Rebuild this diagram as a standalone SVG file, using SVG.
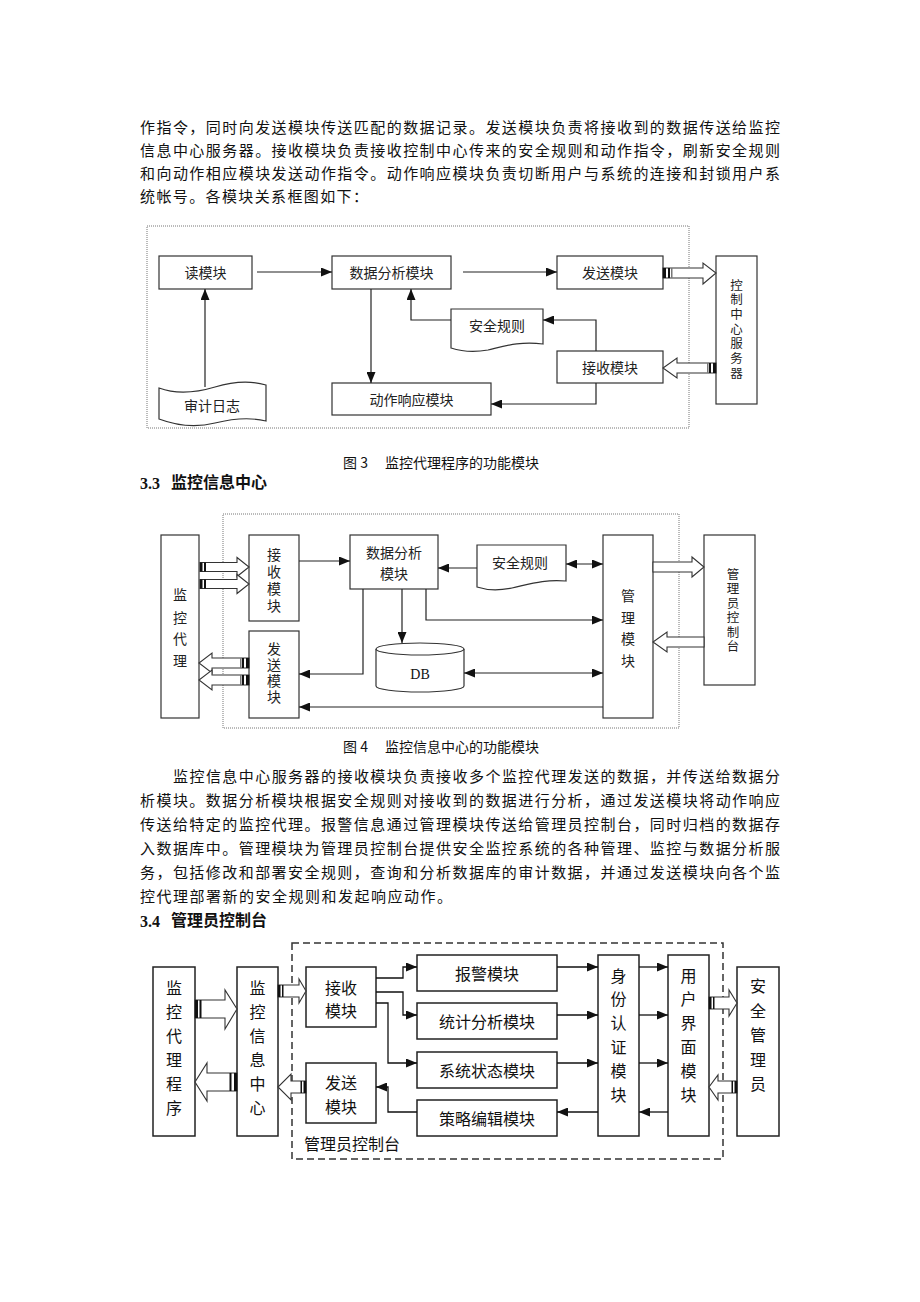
<svg xmlns="http://www.w3.org/2000/svg" width="920" height="1302" viewBox="0 0 920 1302">
<style>
text{font-family:"Noto Sans CJK SC","Liberation Sans",sans-serif;fill:#111;dominant-baseline:central}
.p{font-size:15px}
.h{font-size:16px;font-weight:bold;font-family:"Liberation Serif","Noto Sans CJK SC",serif}
.cap{font-size:14px}
.t3{font-size:14px;text-anchor:middle;fill:#222}
.vt{writing-mode:vertical-rl;text-anchor:middle;fill:#222}
.t5{font-size:16px;text-anchor:middle}
.b3{fill:#fff;stroke:#333;stroke-width:1.2}
.b5{fill:#fff;stroke:#222;stroke-width:1.5}
.c3{fill:none;stroke:#222;stroke-width:1.2}
.c5{fill:none;stroke:#111;stroke-width:1.3}
.ha{fill:#fff;stroke:#333;stroke-width:1.1}
.st{fill:#111}
.dot{fill:none;stroke:#777;stroke-width:1;stroke-dasharray:1,1}
.dash{fill:none;stroke:#333;stroke-width:1.5;stroke-dasharray:7,4}
</style>
<defs>
<marker id="ar" markerUnits="userSpaceOnUse" markerWidth="11" markerHeight="9" refX="11" refY="4.5" orient="auto-start-reverse"><path d="M0,0 L11,4.5 L0,9 z" fill="#111"/></marker>
</defs>
<rect width="920" height="1302" fill="#fff"/>

<g id="para1">
<text class="p" x="140" y="126" textLength="640" lengthAdjust="spacing">作指令，同时向发送模块传送匹配的数据记录。发送模块负责将接收到的数据传送给监控</text>
<text class="p" x="140" y="149" textLength="640" lengthAdjust="spacing">信息中心服务器。接收模块负责接收控制中心传来的安全规则和动作指令，刷新安全规则</text>
<text class="p" x="140" y="172" textLength="640" lengthAdjust="spacing">和向动作相应模块发送动作指令。动作响应模块负责切断用户与系统的连接和封锁用户系</text>
<text class="p" x="140" y="195" textLength="228" lengthAdjust="spacing">统帐号。各模块关系框图如下：</text>
</g>

<!-- Figure 3 -->
<rect class="dot" x="147" y="226" width="542" height="202"/>
<g id="f3-read"><rect class="b3" x="159" y="256" width="93" height="33"/><text class="t3" x="205.5" y="272">读模块</text></g>
<g id="f3-analysis"><rect class="b3" x="332" y="256" width="119" height="33"/><text class="t3" x="391.5" y="272">数据分析模块</text></g>
<g id="f3-send"><rect class="b3" x="557" y="256" width="106" height="33"/><text class="t3" x="610" y="272">发送模块</text></g>
<g id="f3-server"><rect class="b3" x="716" y="256" width="41" height="148"/>
<text class="vt" x="736.5" y="330" style="font-size:12.5px;letter-spacing:2.2px">控制中心服务器</text></g>
<g id="f3-rules"><path class="b3" d="M451,309 H543 V344 C520,341 505,346 488,350 C472,353 460,351 451,348 Z"/><text class="t3" x="497" y="325">安全规则</text></g>
<g id="f3-recv"><rect class="b3" x="557" y="351" width="106" height="32"/><text class="t3" x="610" y="367">接收模块</text></g>
<g id="f3-action"><rect class="b3" x="332" y="383" width="159" height="32"/><text class="t3" x="411.5" y="399">动作响应模块</text></g>
<g id="f3-log"><path class="b3" d="M159,388 C175,394 195,393 215,387 C235,381 252,381 266,385 L266,421 C250,417 235,418 215,423 C195,428 175,425 159,419 Z"/><text class="t3" x="212" y="405">审计日志</text></g>
<g id="f3-conn">
<path class="c3" d="M257,272 H332" marker-end="url(#ar)"/>
<path class="c3" d="M463,272 H557" marker-end="url(#ar)"/>
<path class="c3" d="M205,387 V289" marker-end="url(#ar)"/>
<path class="c3" d="M371,289 V383" marker-end="url(#ar)"/>
<path class="c3" d="M596,351 V320 H543" marker-end="url(#ar)"/>
<path class="c3" d="M451,320 H411 V289" marker-end="url(#ar)"/>
<path class="c3" d="M596,383 V404 H491" marker-end="url(#ar)"/>
<polygon class="ha" points="663,268 703,268 703,263 716,273 703,284 703,278 663,278"/>
<rect class="st" x="663" y="268" width="3" height="10"/><rect class="st" x="668" y="268" width="2" height="10"/><rect fill="#777" x="671" y="268" width="1.5" height="10"/>
<polygon class="ha" points="716,363 677,363 677,358 663,368 677,378 677,373 716,373"/>
<rect class="st" x="713" y="363" width="3" height="10"/><rect class="st" x="709" y="363" width="2" height="10"/><rect fill="#777" x="707" y="363" width="1.5" height="10"/>
</g>
<text class="cap" x="343" y="462">图 3　 监控代理程序的功能模块</text>
<text class="h" x="140" y="483">3.3</text><text class="h" x="171" y="482">监控信息中心</text>

<!-- Figure 4 -->
<rect class="dot" x="223" y="514" width="456" height="214"/>
<g id="f4-agent"><rect class="b3" x="161" y="535" width="38" height="183"/>
<text class="t3" x="180" y="594">监</text><text class="t3" x="180" y="617">控</text><text class="t3" x="180" y="638">代</text><text class="t3" x="180" y="660">理</text></g>
<g id="f4-recv"><rect class="b3" x="249" y="535" width="50" height="86"/>
<text class="vt" x="274" y="582" style="font-size:14px;letter-spacing:3px">接收模块</text></g>
<g id="f4-send"><rect class="b3" x="249" y="631" width="50" height="87"/>
<text class="vt" x="274" y="674" style="font-size:14px;letter-spacing:2px">发送模块</text></g>
<g id="f4-analysis"><rect class="b3" x="350" y="535" width="88" height="54"/>
<text class="t3" x="394" y="552">数据分析</text><text class="t3" x="394" y="573">模块</text></g>
<g id="f4-rules"><path class="b3" d="M477,545 H566 V581 C545,579 530,584 512,588 C497,591 486,590 477,587 Z"/><text class="t3" x="520" y="562">安全规则</text></g>
<g id="f4-db"><path class="b3" d="M376,649 V686 A44,6 0 0 0 464,686 V649"/><ellipse class="b3" cx="420" cy="649" rx="44" ry="6"/>
<text x="420" y="674" style="font-family:'Liberation Serif',serif;font-size:14px;text-anchor:middle">DB</text></g>
<g id="f4-mgmt"><rect class="b3" x="603" y="535" width="50" height="183"/>
<text class="t3" x="628" y="595">管</text><text class="t3" x="628" y="617">理</text><text class="t3" x="628" y="638">模</text><text class="t3" x="628" y="660">块</text></g>
<g id="f4-console"><rect class="b3" x="704" y="535" width="51" height="150"/>
<text class="vt" x="733" y="611" style="font-size:12.5px;letter-spacing:2px">管理员控制台</text></g>
<g id="f4-conn">
<path class="c3" d="M299,561 H350" marker-end="url(#ar)"/>
<path class="c3" d="M477,568 H438" marker-end="url(#ar)"/>
<path class="c3" d="M566,564 H603" marker-start="url(#ar)" marker-end="url(#ar)"/>
<path class="c3" d="M402,589 V643" marker-end="url(#ar)"/>
<path class="c3" d="M426,589 V620 H603" marker-end="url(#ar)"/>
<path class="c3" d="M363,589 V674 H299" marker-end="url(#ar)"/>
<path class="c3" d="M464,673 H603" marker-start="url(#ar)" marker-end="url(#ar)"/>
<path class="c3" d="M603,707 H299" marker-end="url(#ar)"/>
<polygon class="ha" points="200,562.5 237,562.5 237,557.5 249,567 237,576.5 237,571.5 200,571.5"/>
<rect class="st" x="200" y="562.5" width="2.5" height="9"/><rect class="st" x="204" y="562.5" width="2" height="9"/>
<polygon class="ha" points="200,579.5 237,579.5 237,574.5 249,584 237,593.5 237,588.5 200,588.5"/>
<rect class="st" x="200" y="579.5" width="2.5" height="9"/><rect class="st" x="204" y="579.5" width="2" height="9"/>
<polygon class="ha" points="249,658 212,658 212,653 199,663 212,673 212,668 249,668"/>
<rect class="st" x="246" y="658" width="3" height="10"/><rect class="st" x="242" y="658" width="2" height="10"/><rect fill="#777" x="240" y="658" width="1.5" height="10"/>
<polygon class="ha" points="249,675 212,675 212,670 199,680 212,690 212,685 249,685"/>
<rect class="st" x="246" y="675" width="3" height="10"/><rect class="st" x="242" y="675" width="2" height="10"/><rect fill="#777" x="240" y="675" width="1.5" height="10"/>
<polygon class="ha" points="653,562 692,562 692,557 704,567 692,577 692,572 653,572"/>
<polygon class="ha" points="704,637 667,637 667,632 653,642 667,652 667,647 704,647"/>
</g>
<text class="cap" x="343" y="746">图 4　 监控信息中心的功能模块</text>

<g id="para2">
<text class="p" x="173" y="775" textLength="607" lengthAdjust="spacing">监控信息中心服务器的接收模块负责接收多个监控代理发送的数据，并传送给数据分</text>
<text class="p" x="140" y="799" textLength="640" lengthAdjust="spacing">析模块。数据分析模块根据安全规则对接收到的数据进行分析，通过发送模块将动作响应</text>
<text class="p" x="140" y="823" textLength="640" lengthAdjust="spacing">传送给特定的监控代理。报警信息通过管理模块传送给管理员控制台，同时归档的数据存</text>
<text class="p" x="140" y="847" textLength="640" lengthAdjust="spacing">入数据库中。管理模块为管理员控制台提供安全监控系统的各种管理、监控与数据分析服</text>
<text class="p" x="140" y="871" textLength="640" lengthAdjust="spacing">务，包括修改和部署安全规则，查询和分析数据库的审计数据，并通过发送模块向各个监</text>
<text class="p" x="140" y="895" textLength="312" lengthAdjust="spacing">控代理部署新的安全规则和发起响应动作。</text>
</g>
<text class="h" x="140" y="921">3.4</text><text class="h" x="171" y="920">管理员控制台</text>

<!-- Figure 5 -->
<rect class="dash" x="292" y="943" width="431" height="216"/>
<text x="304" y="1143" style="font-size:16px">管理员控制台</text>
<g id="f5-agent"><rect class="b5" x="153" y="967" width="42" height="169"/>
<text class="t5" x="174" y="987">监</text><text class="t5" x="174" y="1011">控</text><text class="t5" x="174" y="1035">代</text><text class="t5" x="174" y="1059">理</text><text class="t5" x="174" y="1083">程</text><text class="t5" x="174" y="1107">序</text></g>
<g id="f5-center"><rect class="b5" x="237" y="967" width="41" height="169"/>
<text class="t5" x="257.5" y="987">监</text><text class="t5" x="257.5" y="1011">控</text><text class="t5" x="257.5" y="1035">信</text><text class="t5" x="257.5" y="1059">息</text><text class="t5" x="257.5" y="1083">中</text><text class="t5" x="257.5" y="1107">心</text></g>
<g id="f5-recv"><rect class="b5" x="306" y="967" width="70" height="60"/>
<text class="t5" x="341" y="987">接收</text><text class="t5" x="341" y="1010">模块</text></g>
<g id="f5-send"><rect class="b5" x="306" y="1063" width="70" height="60"/>
<text class="t5" x="341" y="1082">发送</text><text class="t5" x="341" y="1106">模块</text></g>
<g id="f5-alarm"><rect class="b5" x="417" y="955" width="140" height="36"/><text class="t5" x="487" y="973">报警模块</text></g>
<g id="f5-stat"><rect class="b5" x="417" y="1003" width="140" height="36"/><text class="t5" x="487" y="1021">统计分析模块</text></g>
<g id="f5-status"><rect class="b5" x="417" y="1052" width="140" height="36"/><text class="t5" x="487" y="1070">系统状态模块</text></g>
<g id="f5-policy"><rect class="b5" x="417" y="1100" width="140" height="36"/><text class="t5" x="487" y="1118">策略编辑模块</text></g>
<g id="f5-auth"><rect class="b5" x="598" y="955" width="41" height="181"/>
<text class="t5" x="618.5" y="975">身</text><text class="t5" x="618.5" y="998">份</text><text class="t5" x="618.5" y="1022">认</text><text class="t5" x="618.5" y="1046">证</text><text class="t5" x="618.5" y="1070">模</text><text class="t5" x="618.5" y="1094">块</text></g>
<g id="f5-ui"><rect class="b5" x="668" y="955" width="41" height="181"/>
<text class="t5" x="688.5" y="975">用</text><text class="t5" x="688.5" y="998">户</text><text class="t5" x="688.5" y="1022">界</text><text class="t5" x="688.5" y="1046">面</text><text class="t5" x="688.5" y="1070">模</text><text class="t5" x="688.5" y="1094">块</text></g>
<g id="f5-admin"><rect class="b5" x="737" y="967" width="42" height="169"/>
<text class="t5" x="758" y="985">安</text><text class="t5" x="758" y="1010">全</text><text class="t5" x="758" y="1034">管</text><text class="t5" x="758" y="1059">理</text><text class="t5" x="758" y="1083">员</text></g>
<g id="f5-conn">
<path class="c5" d="M376,978 H403 V967 H417" marker-end="url(#ar)"/>
<path class="c5" d="M376,992 H403 V1015 H417" marker-end="url(#ar)"/>
<path class="c5" d="M376,1003 H388 V1063 H417" marker-end="url(#ar)"/>
<path class="c5" d="M417,1112 H388 V1087 H376" marker-end="url(#ar)"/>
<path class="c5" d="M557,967 H598" marker-end="url(#ar)"/>
<path class="c5" d="M557,1015 H598" marker-end="url(#ar)"/>
<path class="c5" d="M557,1063 H598" marker-end="url(#ar)"/>
<path class="c5" d="M598,1112 H557" marker-end="url(#ar)"/>
<path class="c5" d="M639,967 H668" marker-end="url(#ar)"/>
<path class="c5" d="M639,1015 H668" marker-end="url(#ar)"/>
<path class="c5" d="M639,1063 H668" marker-end="url(#ar)"/>
<path class="c5" d="M668,1112 H639" marker-end="url(#ar)"/>
<polygon class="ha" points="195,1000 225,1000 225,990 237,1009 225,1029 225,1018 195,1018"/>
<rect class="st" x="195" y="1000" width="3" height="18"/><rect class="st" x="199.5" y="1000" width="2" height="18"/>
<polygon class="ha" points="237,1073 207,1073 207,1063 195,1082 207,1101 207,1091 237,1091"/>
<rect class="st" x="234" y="1073" width="3" height="18"/><rect class="st" x="229.5" y="1073" width="2" height="18"/>
<polygon class="ha" points="278,985 299,985 299,979 306,991 299,1003 299,997 278,997"/>
<rect class="st" x="278" y="985" width="2.5" height="12"/><rect class="st" x="282" y="985" width="1.5" height="12"/>
<polygon class="ha" points="306,1081 291,1081 291,1074 278,1087 291,1100 291,1093 306,1093"/>
<rect class="st" x="303.5" y="1081" width="2.5" height="12"/><rect class="st" x="300.5" y="1081" width="1.5" height="12"/>
<polygon class="ha" points="709,997 729,997 729,990 737,1003 729,1016 729,1009 709,1009"/>
<rect class="st" x="709" y="997" width="2.5" height="12"/><rect class="st" x="713" y="997" width="1.5" height="12"/>
<polygon class="ha" points="737,1081 718,1081 718,1075 709,1087 718,1100 718,1093 737,1093"/>
<rect class="st" x="734.5" y="1081" width="2.5" height="12"/><rect class="st" x="731.5" y="1081" width="1.5" height="12"/>
</g>
</svg>
